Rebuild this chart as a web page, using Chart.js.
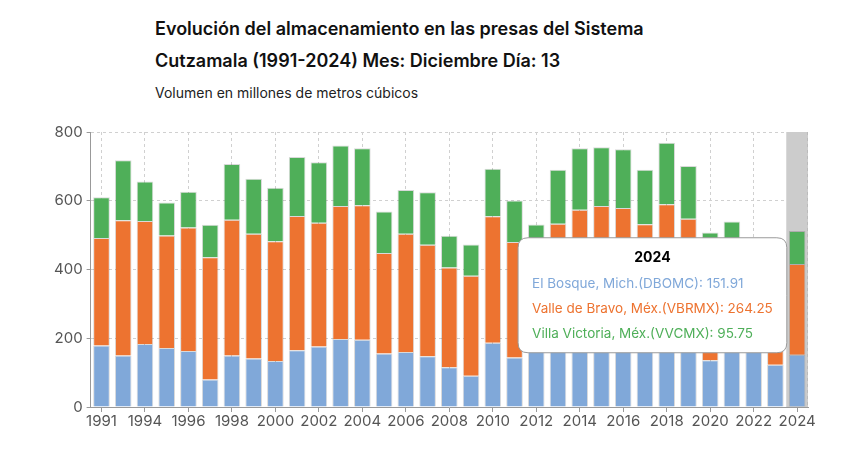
<!DOCTYPE html>
<html lang="es">
<head>
<meta charset="utf-8">
<script src="https://cdn.jsdelivr.net/npm/chart.js@4.4.1/dist/chart.umd.min.js"></script>
<style>
  html, body { margin: 0; padding: 0; background: #fff; }
  body { width: 850px; height: 470px; position: relative; overflow: hidden; font-family: Inter, "Noto Sans", sans-serif; }
  #titulo { position: absolute; left: 155px; top: 13px; font-size: 18px; font-weight: 600; line-height: 32px; color: #111; }
  #subtitulo { position: absolute; left: 155px; top: 84px; font-size: 14px; color: #222; }
  #wrap { position: absolute; left: 0; top: 0; width: 850px; height: 470px; }
</style>
</head>
<body>
<div id="titulo">Evolución del almacenamiento en las presas del Sistema<br>Cutzamala (1991-2024) Mes: Diciembre Día: 13</div>
<div id="subtitulo">Volumen en millones de metros cúbicos</div>
<div id="wrap"><canvas id="grafico"></canvas></div>
<script>
const anios = ["1991","1992","1994","1995","1996","1997","1998","1999","2000","2001","2002","2003","2004","2005","2006","2007","2008","2009","2010","2011","2012","2013","2014","2015","2016","2017","2018","2019","2020","2021","2022","2023","2024"];

const elBosque = [179,150,183,172,163,80,150,141,134,165,176,198,196,156,160,148,116,91,187,144,165,180,190,195,190,180,195,175,136,170,160,123,151.91];
const valleBravo = [313,393,358,327,359,356,395,363,348,391,360,387,391,292,344,324,290,291,368,336,275,353,384,390,389,352,395,373,250,260,220,135,264.25];
const villaVictoria = [118,175,115,96,104,94,162,160,156,171,176,176,166,121,127,153,92,91,138,121,91,157,179,171,171,158,179,153,122,110,95,48,95.75];

const ticksY = [0, 200, 400, 600, 800];

const colores = {
  azul: "#80a8d9",
  naranja: "#ed7330",
  verde: "#4faf59"
};

// indice resaltado (el ultimo año)
const indiceActivo = anios.length - 1;

const bandaHover = {
  id: "bandaHover",
  beforeDatasetsDraw(chart) {
    const { ctx, chartArea, scales } = chart;
    const x = scales.x.getPixelForValue(indiceActivo);
    const ancho = (chartArea.right - chartArea.left) / anios.length;
    ctx.save();
    ctx.fillStyle = "#cccccc";
    ctx.fillRect(x - ancho / 2, chartArea.top, ancho, chartArea.bottom - chartArea.top);
    ctx.strokeStyle = "#bbbbbb";
    ctx.setLineDash([3, 3]);
    ctx.beginPath();
    ctx.moveTo(chartArea.right - 0.5, chartArea.top);
    ctx.lineTo(chartArea.right - 0.5, chartArea.bottom);
    ctx.stroke();
    ctx.restore();
  }
};

Chart.Tooltip.positioners.izquierda = function (items) {
  if (!items.length) return false;
  const el = items[0].element;
  let y = 0;
  items.forEach(i => { y += i.element.y; });
  y = y / items.length + 12;
  return { x: el.x - el.width / 2 - 2, y: y };
};

function serie(label, datos, color) {
  return {
    label: label,
    data: datos,
    backgroundColor: color,
    hoverBackgroundColor: color,
    borderColor: "rgba(0,0,0,0.15)",
    hoverBorderColor: "rgba(0,0,0,0.15)",
    borderWidth: 1,
    barPercentage: 0.9,
    categoryPercentage: 0.85
  };
}

const grafico = new Chart(document.getElementById("grafico"), {
  type: "bar",
  data: {
    labels: anios,
    datasets: [
      serie("El Bosque, Mich.(DBOMC)", elBosque, colores.azul),
      serie("Valle de Bravo, Méx.(VBRMX)", valleBravo, colores.naranja),
      serie("Villa Victoria, Méx.(VVCMX)", villaVictoria, colores.verde)
    ]
  },
  options: {
    responsive: true,
    maintainAspectRatio: false,
    animation: false,
    layout: { padding: { top: 132, left: 50, right: 42, bottom: 40 } },
    interaction: { mode: "index", intersect: false },
    plugins: {
      legend: { display: false },
      title: { display: false },
      tooltip: {
        position: "izquierda",
        xAlign: "right",
        yAlign: "center",
        caretSize: 0,
        caretPadding: 0,
        backgroundColor: "#ffffff",
        borderColor: "#9a9a9a",
        borderWidth: 1,
        cornerRadius: 10,
        padding: { top: 12, bottom: 11, left: 14, right: 14 },
        displayColors: false,
        titleColor: "#000",
        titleAlign: "center",
        titleFont: { family: "Inter", size: 14, weight: "bold" },
        titleMarginBottom: 9,
        bodyFont: { family: "Inter", size: 13.5 },
        bodySpacing: 8.8,
        callbacks: {
          label: ctx => ctx.dataset.label + ": " + ctx.raw,
          labelTextColor: ctx => ctx.dataset.backgroundColor
        }
      }
    },
    scales: {
      x: {
        stacked: true,
        grid: {
          offset: false,
          color: ctx => (ctx.index % 2 === 0 ? "#d0d0d0" : "transparent"),
          tickColor: ctx => (ctx.index % 2 === 0 ? "#999" : "transparent"),
          tickLength: 5
        },
        border: { color: "#999", dash: [3, 3] },
        ticks: {
          autoSkip: false,
          maxRotation: 0,
          color: "#555",
          font: { family: "Inter", size: 15 },
          padding: 0,
          callback: function (v, i) { return i % 2 === 0 ? anios[i] : ""; }
        }
      },
      y: {
        stacked: true,
        min: ticksY[0],
        max: ticksY[ticksY.length - 1],
        afterBuildTicks: axis => { axis.ticks = ticksY.map(v => ({ value: v })); },
        grid: { color: "#d0d0d0", tickLength: 4, tickColor: "#999" },
        border: { color: "#999", dash: [3, 3] },
        ticks: {
          color: "#555",
          font: { family: "Inter", size: 15 },
          padding: 4
        }
      }
    }
  },
  plugins: [bandaHover]
});

const activos = [0, 1, 2].map(d => ({ datasetIndex: d, index: indiceActivo }));
grafico.setActiveElements(activos);
grafico.tooltip.setActiveElements(activos, { x: 797, y: 300 });
grafico.update();
</script>
</body>
</html>
